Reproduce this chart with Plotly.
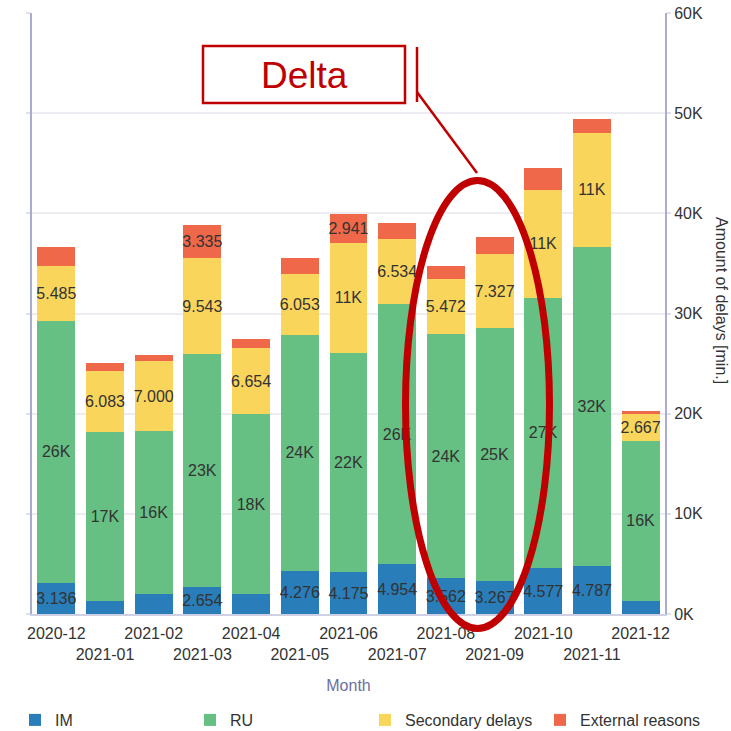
import plotly.graph_objects as go

months = ["2020-12", "2021-01", "2021-02", "2021-03", "2021-04", "2021-05", "2021-06",
          "2021-07", "2021-08", "2021-09", "2021-10", "2021-11", "2021-12"]
im = [3136, 1300, 2030, 2654, 2030, 4276, 4175, 4954, 3562, 3267, 4577, 4787, 1300]
ru = [26100, 16900, 16200, 23300, 17900, 23600, 21900, 26000, 24400, 25300, 27000, 31900, 16000]
secondary = [5485, 6083, 7000, 9543, 6654, 6053, 10950, 6534, 5472, 7327, 10800, 11300, 2667]
external = [1900, 800, 640, 3335, 850, 1650, 2941, 1500, 1300, 1700, 2100, 1400, 300]

y_tickvals = [0, 10000, 20000, 30000, 40000, 50000, 60000]
y_ticktext = ["0K", "10K", "20K", "30K", "40K", "50K", "60K"]

series = [("IM", im, "#297db9"), ("RU", ru, "#66bf83"),
          ("Secondary delays", secondary, "#f9d55c"), ("External reasons", external, "#ee6849")]


def fmt(v):
    if v < 2500:
        return ""
    if v >= 10000:
        return f"{round(v / 1000)}K"
    return f"{v / 1000:.3f}"


W, H = 731, 731
L, R, T, B = 32, 66, 13, 117
pw, ph = W - L - R, H - T - B


def px(x):
    return (x - L) / pw


def py(y):
    return (H - B - y) / ph


fig = go.Figure()
for name, vals, col in series:
    fig.add_trace(go.Bar(
        x=months, y=vals, name=name, marker=dict(color=col, line=dict(width=0)),
        text=[fmt(v) for v in vals], textposition="inside", insidetextanchor="middle",
        textangle=0, constraintext="none",
        textfont=dict(family="Liberation Sans, Arial", size=16, color="#333333"),
    ))

red = "#c00000"
shapes = [
    dict(type="rect", xref="paper", yref="paper", x0=px(203), x1=px(405), y0=py(103), y1=py(46),
         line=dict(color=red, width=2.5), fillcolor="white"),
    dict(type="line", xref="paper", yref="paper", x0=px(417), x1=px(417), y0=py(102), y1=py(47),
         line=dict(color=red, width=2.5)),
    dict(type="line", xref="paper", yref="paper", x0=px(417), x1=px(477), y0=py(92), y1=py(173),
         line=dict(color=red, width=2.5)),
    dict(type="circle", xref="paper", yref="paper", x0=px(405.5), x1=px(549.5), y0=py(628.5), y1=py(180.5),
         line=dict(color=red, width=7)),
]

annotations = [
    dict(text="Delta", xref="paper", yref="paper", x=px(304), y=py(75), showarrow=False,
         font=dict(family="Liberation Sans, Arial", size=37, color=red), xanchor="center", yanchor="middle"),
    dict(text="Amount of delays [min.]", xref="paper", yref="paper", x=px(722), y=py(300),
         showarrow=False, textangle=90, xanchor="center", yanchor="middle",
         font=dict(family="Liberation Sans, Arial", size=16, color="#333333")),
]

fig.update_layout(
    width=W, height=H, barmode="stack", bargap=0.22,
    margin=dict(l=L, r=R, t=T, b=B, autoexpand=False),
    plot_bgcolor="white", paper_bgcolor="white",
    font=dict(family="Liberation Sans, Arial", size=16, color="#333333"),
    shapes=shapes, annotations=annotations,
    legend=dict(orientation="h", x=px(725), xanchor="right", y=py(720), yanchor="middle",
                entrywidth=140, entrywidthmode="pixels", indentation=-10, traceorder="normal",
                font=dict(size=16, color="#333333"), bgcolor="rgba(0,0,0,0)"),
    xaxis=dict(type="category", tickvals=months, automargin=False,
               ticktext=[m if i % 2 == 0 else "<br>" + m for i, m in enumerate(months)],
               tickangle=0, showline=True, linecolor="#d0d0e4", linewidth=2, ticks="",
               ticklabelstandoff=4,
               title=dict(text="Month", font=dict(size=16, color="#6e6ea0"), standoff=18),
               tickfont=dict(size=16, color="#333333")),
    yaxis=dict(side="right", range=[0, 60000], tickvals=y_tickvals, ticktext=y_ticktext,
               automargin=False,
               showgrid=True, gridcolor="#ececf2", gridwidth=2, zeroline=False,
               showline=True, linecolor="#a9abcf", linewidth=2, mirror="ticks",
               ticks="outside", ticklen=4, tickcolor="#e0e0ea", tickwidth=2,
               tickfont=dict(size=16, color="#333333")),
)

fig.write_html("out.html", post_script="document.body.style.margin='0';",
               config={"displayModeBar": False})
